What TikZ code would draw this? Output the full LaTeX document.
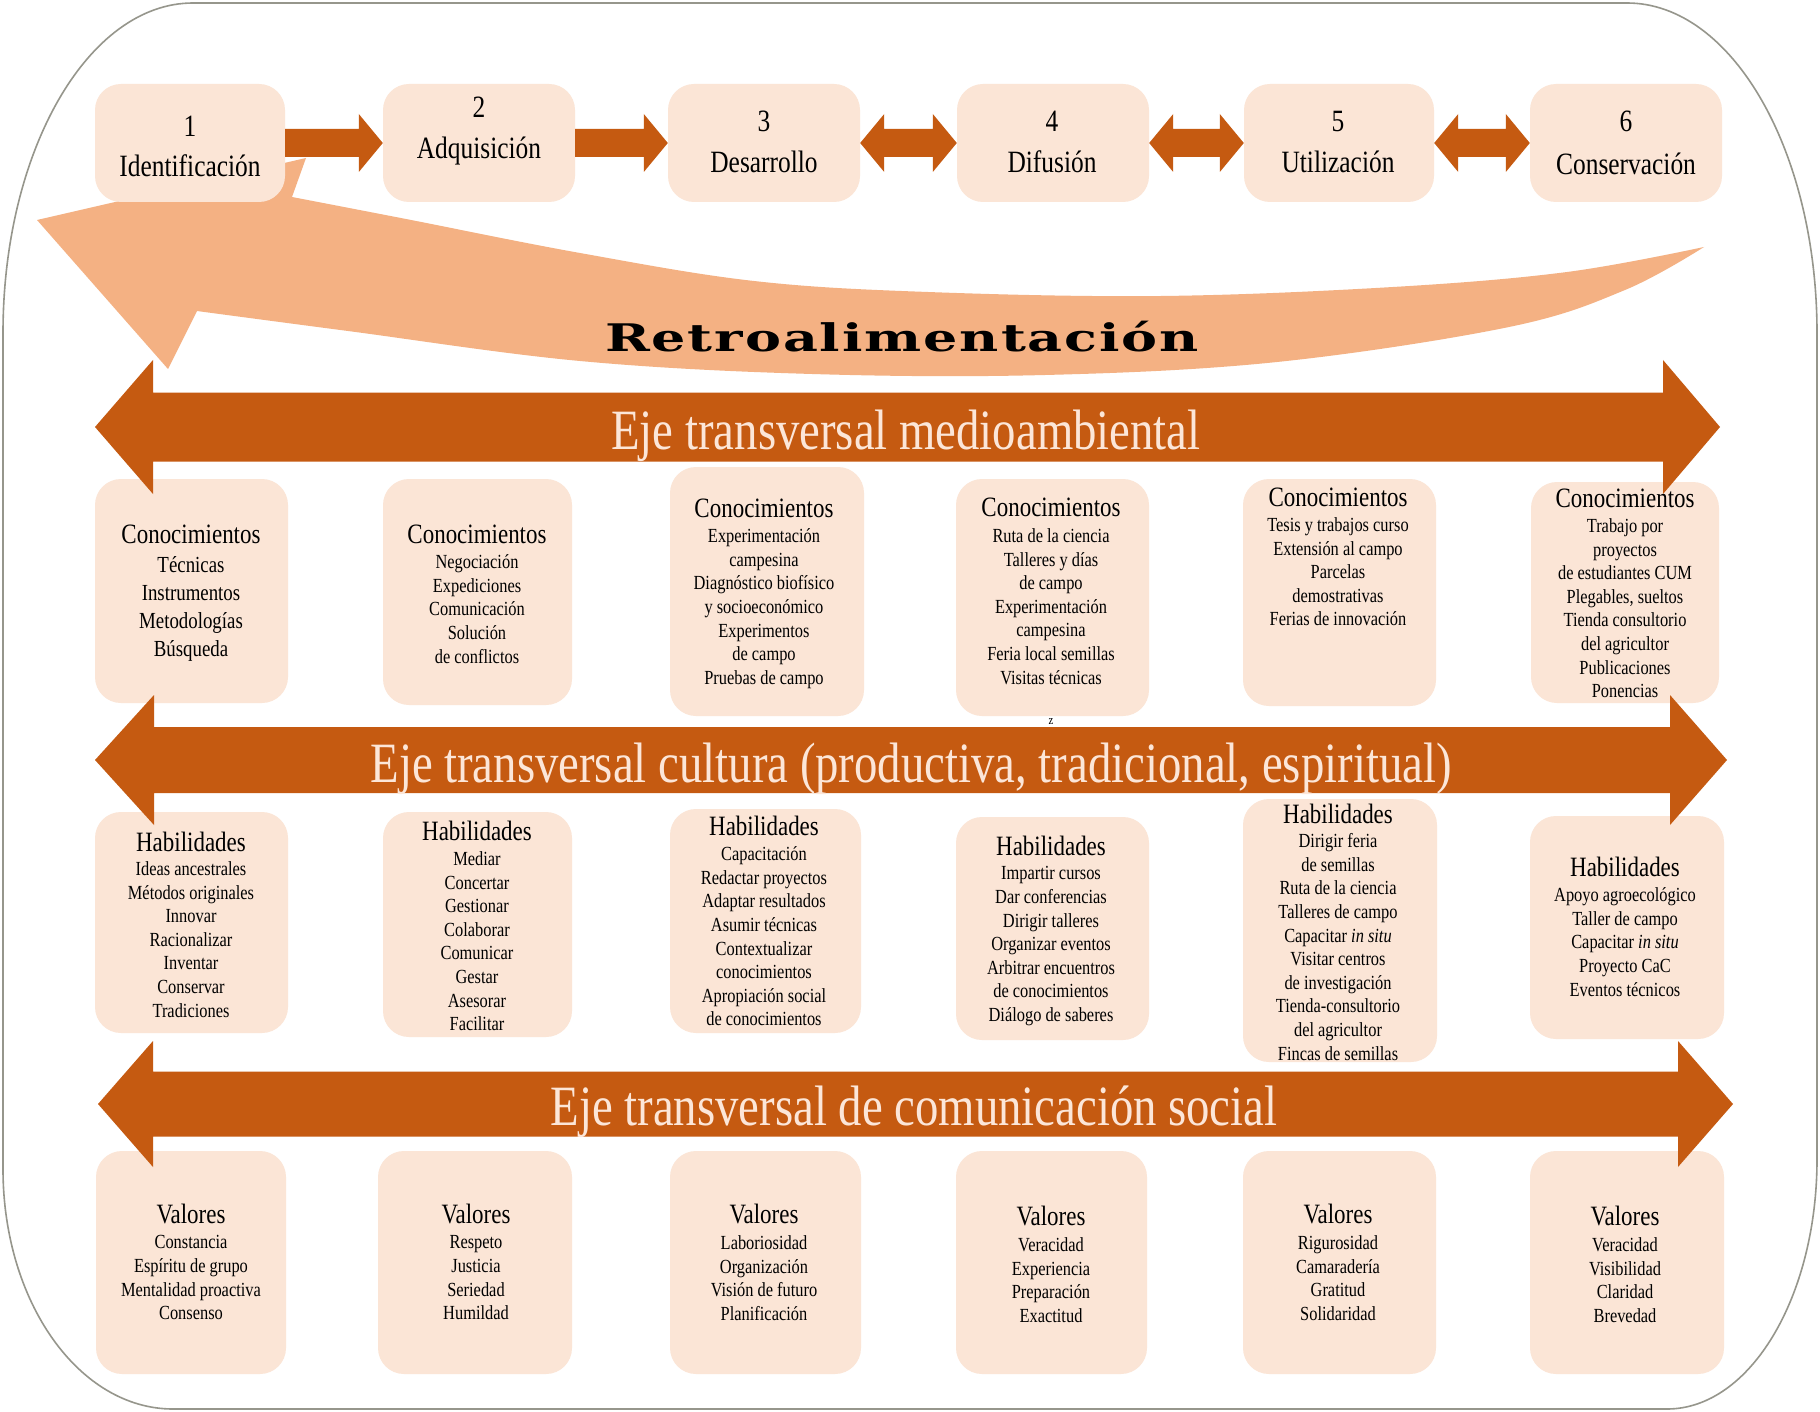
\documentclass[tikz,border=0pt]{standalone}
\usepackage{fontspec}
\setmainfont[FakeStretch=0.82]{Liberation Serif}
\newfontfamily\retrofont[FakeStretch=1.42,LetterSpace=5]{DejaVu Serif}
\usetikzlibrary{calc}
\definecolor{dkor}{RGB}{197,90,17}
\definecolor{ltor}{RGB}{244,177,131}
\definecolor{boxc}{RGB}{251,229,214}
\definecolor{axtxt}{RGB}{252,230,216}
\definecolor{frm}{RGB}{150,150,140}
\newcommand\hdf{\fontsize{28}{30}\selectfont}
\newcommand\itf{\fontsize{20}{23.6}\selectfont}
\newcommand\itfb{\fontsize{23}{28}\selectfont}
\newcommand\pnf{\fontsize{31}{34}\selectfont}
\newcommand\axf{\fontsize{57}{60}\selectfont}
\tikzset{
 cbox/.style={fill=boxc, rounded corners=26pt, inner sep=0pt, draw=none},
 hd/.style={font=\hdf, inner sep=0pt, anchor=base},
 its/.style={font=\itf, align=center, inner sep=0pt, anchor=north},
 pn/.style={font=\pnf, inner sep=0pt, anchor=base},
 axt/.style={font=\axf, text=axtxt, inner sep=0pt, anchor=base},
}
% box node: name, x1, y1, x2, y2
\newcommand\bx[5]{\node[cbox, minimum width={#4-#2}, minimum height={#5-#3}] (#1) at ({(#2+#4)/2},{(#3+#5)/2}) {};}
% header + items: name, x, header baseline, items top, header, items
\newcommand\btext[6]{\node[hd] (#1h) at (#2,#3) {#5};\node[its] (#1i) at (#2,#4) {#6};}
% single arrow from #1 to #2
\newcommand\rarr[2]{\fill[dkor] ($(#1)+(0,-14)$) -- ($(#2|-#1)+(-24,-14)$) -- ($(#2|-#1)+(-24,-29)$) -- (#2|-#1) -- ($(#2|-#1)+(-24,29)$) -- ($(#2|-#1)+(-24,14)$) -- ($(#1)+(0,14)$) -- cycle;}
% double arrow between #1 and #2
\newcommand\darr[2]{\fill[dkor] (#1) -- ($(#1)+(24,-29)$) -- ($(#1)+(24,-14)$) -- ($(#2|-#1)+(-24,-14)$) -- ($(#2|-#1)+(-24,-29)$) -- (#2|-#1) -- ($(#2|-#1)+(-24,29)$) -- ($(#2|-#1)+(-24,14)$) -- ($(#1)+(24,14)$) -- ($(#1)+(24,29)$) -- cycle;}
% big axis: yc, ltip, lneck, rneck, rtip, shaft half, head half
\newcommand\bigaxis[7]{\fill[dkor] (#2,#1) -- (#3,#1-#7) -- (#3,#1-#6) -- (#4,#1-#6) -- (#4,#1-#7) -- (#5,#1) -- (#4,#1+#7) -- (#4,#1+#6) -- (#3,#1+#6) -- (#3,#1+#7) -- cycle;}
\begin{document}
\begin{tikzpicture}[x=1pt,y=-1pt]
\useasboundingbox (0,0) rectangle (1820,1412);
\fill[white] (0,0) rectangle (1820,1412);
% frame
\draw[frm, line width=1.6pt] (3,333) .. controls (3,151) and (88,3) .. (193,3) -- (1627,3)
  .. controls (1732,3) and (1817,151) .. (1817,333) -- (1817,1159)
  .. controls (1817,1297) and (1750,1409) .. (1667,1409) -- (173,1409)
  .. controls (79,1409) and (3,1302) .. (3,1169) -- cycle;
% feedback band
\fill[ltor] (37,220) -- (306,158) -- plot[smooth, tension=0.6] coordinates {(292,197) (406,219) (580,253) (754,281) (928,292) (1161,296) (1393,287) (1567,272) (1704,247)}
  -- plot[smooth, tension=0.6] coordinates {(1704,247) (1625,290) (1509,327) (1277,362) (1045,375) (812,374) (580,361) (348,331) (197,311)} -- (168,369) -- cycle;
\node[anchor=base, inner sep=0pt] (retro) at (902,352) {\fontsize{38}{40}\retrofont\bfseries Retroalimentación};
% top process boxes
\bx{B1}{95}{84}{285}{202}
\bx{B2}{383}{84}{575}{202}
\bx{B3}{668}{84}{860}{202}
\bx{B4}{957}{84}{1149}{202}
\bx{B5}{1244}{84}{1434}{202}
\bx{B6}{1530}{84}{1722}{202}
\rarr{B1.east}{B2.west}
\rarr{B2.east}{B3.west}
\darr{B3.east}{B4.west}
\darr{B4.east}{B5.west}
\darr{B5.east}{B6.west}
\node[pn] (n1) at (190,137) {1};
\node[pn] (l1) at (190,177) {Identificación};
\node[pn] (n2) at (479,118) {2};
\node[pn] (l2) at (479,159) {Adquisición};
\node[pn] (n3) at (764,132) {3};
\node[pn] (l3) at (764,173) {Desarrollo};
\node[pn] (n4) at (1052,132) {4};
\node[pn] (l4) at (1052,173) {Difusión};
\node[pn] (n5) at (1338,132) {5};
\node[pn] (l5) at (1338,173) {Utilización};
\node[pn] (n6) at (1626,132) {6};
\node[pn] (l6) at (1626,175) {Conservación};
% content boxes
\bx{C1}{95}{479}{288}{703}
\bx{C2}{383}{479}{572}{705}
\bx{C3}{670}{467}{864}{716}
\bx{C4}{956}{479}{1149}{716}
\bx{C5}{1243}{479}{1436}{706}
\bx{C6}{1531}{482}{1719}{703}
\bx{H1}{95}{812}{288}{1033}
\bx{H2}{383}{812}{572}{1037}
\bx{H3}{670}{809}{861}{1033}
\bx{H4}{956}{817}{1149}{1040}
\bx{H5}{1243}{799}{1437}{1062}
\bx{H6}{1530}{816}{1724}{1039}
\bx{V1}{96}{1151}{286}{1374}
\bx{V2}{378}{1151}{572}{1374}
\bx{V3}{670}{1151}{861}{1374}
\bx{V4}{956}{1151}{1147}{1374}
\bx{V5}{1243}{1151}{1436}{1374}
\bx{V6}{1530}{1151}{1724}{1374}
% axes
\bigaxis{427}{95}{153}{1663}{1720}{34.5}{67}
\bigaxis{760}{95}{154}{1670}{1727}{33}{65}
\bigaxis{1104}{98}{153}{1678}{1733}{32.5}{63}
\node[axt] (ax1) at (906,449) {Eje transversal medioambiental};
\node[axt] (ax2) at (911,782) {Eje transversal cultura (productiva, tradicional, espiritual)};
\node[axt] (ax3) at (914,1125) {Eje transversal de comunicación social};
% texts
\node[hd] (C1h) at (191,543) {Conocimientos};
\node[its, font=\itfb] (C1i) at (191,556.5) {Técnicas\\Instrumentos\\Metodologías\\Búsqueda};
\btext{C2}{477}{543}{554.5}{Conocimientos}{Negociación\\Expediciones\\Comunicación\\Solución\\de conflictos}
\btext{C3}{764}{517}{528.5}{Conocimientos}{Experimentación\\campesina\\Diagnóstico biofísico\\y socioeconómico\\Experimentos\\de campo\\Pruebas de campo}
\btext{C4}{1051}{516}{528.5}{Conocimientos}{Ruta de la ciencia\\Talleres y días\\de campo\\Experimentación\\campesina\\Feria local semillas\\Visitas técnicas}
\btext{C5}{1338}{506}{517.5}{Conocimientos}{Tesis y trabajos curso\\Extensión al campo\\Parcelas\\demostrativas\\Ferias de innovación}
\btext{C6}{1625}{507}{518.5}{Conocimientos}{Trabajo por\\proyectos\\de estudiantes CUM\\Plegables, sueltos\\Tienda consultorio\\del agricultor\\Publicaciones\\Ponencias}
\btext{H1}{191}{851}{861.5}{Habilidades}{Ideas ancestrales\\Métodos originales\\Innovar\\Racionalizar\\Inventar\\Conservar\\Tradiciones}
\btext{H2}{477}{840}{851.5}{Habilidades}{Mediar\\Concertar\\Gestionar\\Colaborar\\Comunicar\\Gestar\\Asesorar\\Facilitar}
\btext{H3}{764}{835}{846.5}{Habilidades}{Capacitación\\Redactar proyectos\\Adaptar resultados\\Asumir técnicas\\Contextualizar\\conocimientos\\Apropiación social\\de conocimientos}
\btext{H4}{1051}{855}{866.5}{Habilidades}{Impartir cursos\\Dar conferencias\\Dirigir talleres\\Organizar eventos\\Arbitrar encuentros\\de conocimientos\\Diálogo de saberes}
\btext{H5}{1338}{823}{833.5}{Habilidades}{Dirigir feria\\de semillas\\Ruta de la ciencia\\Talleres de campo\\Capacitar \textit{in situ}\\Visitar centros\\de investigación\\Tienda-consultorio\\del agricultor\\Fincas de semillas}
\btext{H6}{1625}{876}{887.5}{Habilidades}{Apoyo agroecológico\\Taller de campo\\Capacitar \textit{in situ}\\Proyecto CaC\\Eventos técnicos}
\btext{V1}{191}{1223}{1235.5}{Valores}{Constancia\\Espíritu de grupo\\Mentalidad proactiva\\Consenso}
\btext{V2}{476}{1223}{1235.5}{Valores}{Respeto\\Justicia\\Seriedad\\Humildad}
\btext{V3}{764}{1223}{1235.5}{Valores}{Laboriosidad\\Organización\\Visión de futuro\\Planificación}
\btext{V4}{1051}{1225}{1237.5}{Valores}{Veracidad\\Experiencia\\Preparación\\Exactitud}
\btext{V5}{1338}{1223}{1235.5}{Valores}{Rigurosidad\\Camaradería\\Gratitud\\Solidaridad}
\btext{V6}{1625}{1225}{1237.5}{Valores}{Veracidad\\Visibilidad\\Claridad\\Brevedad}
\node[inner sep=0pt] (zz) at (1051,722) {\fontsize{13}{15}\selectfont z};
\end{tikzpicture}
\end{document}
